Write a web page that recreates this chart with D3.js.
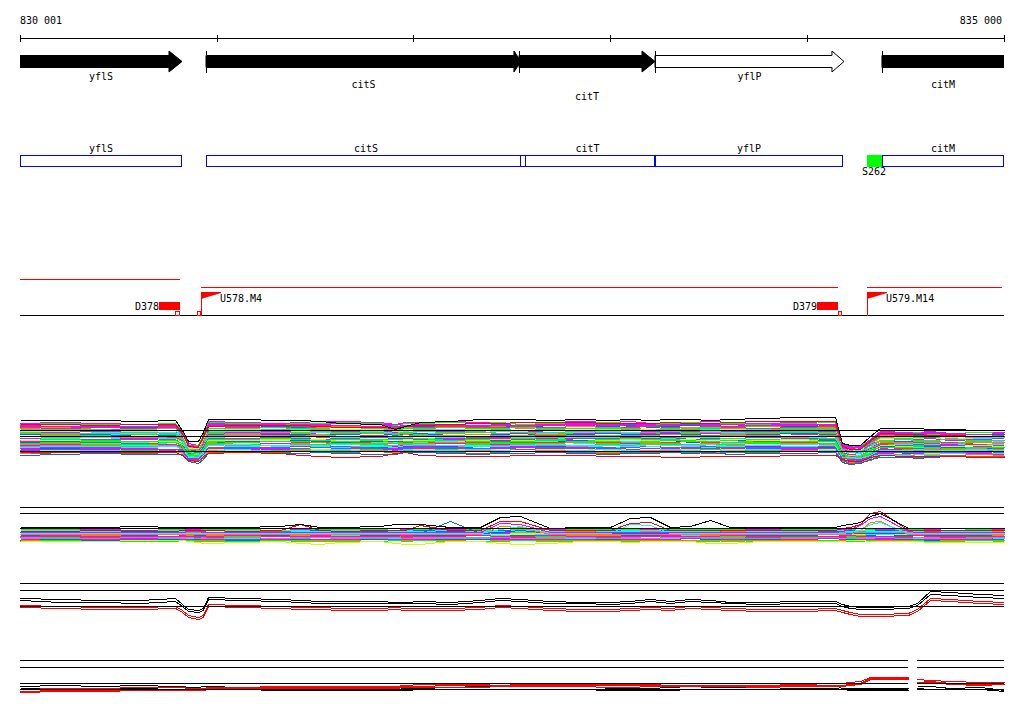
<!DOCTYPE html>
<html><head><meta charset="utf-8">
<script src="https://cdn.jsdelivr.net/npm/d3@7"></script>
<style>
body{margin:0;background:#fff;}
svg{display:block;}
text{font-family:"DejaVu Sans Mono",monospace;font-size:10px;fill:#000;}
</style>
</head><body>
<svg id="c" width="1024" height="714"></svg>
<script>
// ---------------- DATA ----------------
const regionStart = 830001, regionEnd = 835000;
const axisTicks = [830001, 831000, 832000, 833000, 834000, 835000];
const axisLabels = [830001, 835000];

// genes (arrows)
const geneNames  = ['yflS','citS','citT','yflP','citM'];
const geneStarts = [829950, 830946, 832536, 833227, 834380];
const geneEnds   = [830824, 832546, 833227, 834187, 835150];
const geneFilled = [true, true, true, false, true];

// annotated boxes
const boxNames  = ['yflS','citS','citT','yflP','citM'];
const boxStarts = [830001, 830946, 832541, 833227, 834380];
const boxEnds   = [830824, 832571, 833227, 834184, 835000];
const siteNames = ['S262'];
const siteStarts = [834306];
const siteEnds   = [834380];

// transcription units
const tuStarts = [830001, 830920, 834304];
const tuEnds   = [830814, 834157, 834990];
const tuRow    = [0, 1, 1];
const termNames = ['D378','D379'];
const termStarts = [830707, 834050];
const termEnds   = [830814, 834157];
const promNames = ['U578.M4','U579.M14'];
const promPos   = [830920, 834304];
const markStarts = [830789, 830900, 834157];
const markEnds   = [830814, 830920, 834177];

// probe grid (bp)
const grid = [830001,830204,830407,830611,830789,830824,830855,830905,830931,830956,
  831119,831322,831424,831525,831627,831830,831906,831957,832034,832186,
  832338,832440,832542,832694,832847,832999,833101,833202,833304,833406,
  833507,833609,833761,833964,834142,834177,834218,834269,834320,834371,
  834513,834559,834625,834727,834879,835000];

// Track A (many conditions)
const refA = [40, 34, 19];
const topBlackA = [50,50,50,49,50,40,29,29,38,51,51,50,50,49,47,46,41,44,48,49,51,51,51,50,51,50,51,50,51,51,50,51,52,53,53,27,25,25,34,42,42,42,41,41,40,40];
const redTopA = [46,46,45,46,46,37,24,23,34,44,45,45,45,44,43,43,42,44,45,46,47,47,48,48,48,47,47,47,48,47,47,48,49,49,49,24,21,21,30,37,36,36,35,35,34,34];
const redBotA = [18,18,18,18,18,15,10,9,14,17,18,17,15,14,13,14,17,18,15,14,14,14,15,15,15,14,14,14,13,13,14,14,14,15,15,11,9,9,13,15,14,14,14,14,13,13];
const centerA = [32,32,32,32,32,28,18,17,24,33,33,33,33,33,33,33,32,33,33,33,33,33,33,33,33,33,33,33,33,33,33,33,33,33,33,18,16,16,21,26,26,26,26,26,26,26];
const spreadA = [1,1,1,1,1,0.8,0.55,0.55,0.8,1,1,1,1,1,1,1,1,1,1,1,1,1,1,1,1,1,1,1,1,1,1,1,1,1,1,0.6,0.55,0.55,0.7,0.8,0.8,0.8,0.8,0.8,0.8,0.8];
const offsetsA = [15,14,13.5,12,11,10.5,10,9,8,7.5,7,6,5,4.5,4,3,2,1.5,1,0,-1,-1.5,-2,-3,-4,-4.5,-5,-6,-6.5,-7,-8,-9,-9.5,-10,-11,-12,-12.5,-13,-14,-15,-16,12.5,5.5,-3.5,-7.5,-10.5];
const colorsA = "mgpmbonygclpcmgbonycpmglbcnomgycbpmlgconbmygcpmlo";

// Track B
const refB = [43, 37, 22];
const centerB = [16,16,16,16,16,16,16,16,16,16,16,16,16,16,16,16,16,16,16,16,16,16,16,16,16,16,16,16,16,16,16,16,16,16,16,16,16,16,16,16,16,16,16,16,16,16];
const offsetsB = [5,4.5,4,3.5,3,2.5,2,1.5,1,0.5,0,-0.5,-1,-1.5,-2,-2.5,-3,-3.5,-4,-4.5,-5,-5.5,-6,-6.5,3.2,0.8,-1.8,-3.8];
const colorsB = "gmcbonympglcbomgyncpmbogclmy";
const blackB = [23,23,23,24,23,23,23,23,23,23,23,24,26,23,23,24,26,26,26,23,23,33,34,22,23,23,32,33,23,24,30,23,23,23,23,25,26,28,34,37,22,22,22,22,22,22];
const redB = [19,19,20,19,19,20,20,20,20,20,19,20,26,20,19,20,20,20,25,20,20,29,29,20,20,20,27,28,20,20,20,20,20,20,20,22,23,26,37,39,20,20,20,20,20,20];
const magentaB = [18,18,18,18,18,18,19,19,19,18,18,18,18,18,18,18,18,18,18,18,18,27,26,18,18,18,18,18,18,18,18,18,18,18,18,19,21,25,32,34,19,18,18,18,18,18];
const cyanB = [17,17,17,17,17,17,17,17,17,17,17,17,17,17,17,17,17,17,17,17,17,21,24,17,17,17,26,25,17,17,17,17,17,17,17,17,18,20,26,28,17,17,17,17,17,17];
const blueB = [17,17,17,17,17,17,17,17,17,17,17,17,17,17,17,17,17,17,17,29,17,18,20,17,17,17,17,17,17,17,17,17,17,17,17,17,17,17,17,17,17,17,17,17,17,17];
const orangeB = [16,16,16,16,16,16,16,16,16,16,16,16,16,16,16,16,16,16,16,16,16,24,23,16,16,16,16,16,16,16,16,16,16,16,16,16,16,20,28,29,16,16,16,16,16,16];
const limeB = [9,9,9,10,10,10,9,8,7,7,8,9,7,6,8,9,7,6,6,9,9,7,6,7,9,9,8,9,9,9,7,7,9,9,9,9,10,10,9,9,9,9,8,8,8,8];

// Track C
const refC = [37, 30, 14];
const black1C = [22,21,20,20,22,16,11,10,12,23,22,21,20,19,19,19,18,18,19,18,20,22,21,19,18,18,19,21,19,21,20,18,18,19,19,16,14,13,13,13,14,17,29,28,26,25];
const black2C = [20,18,18,17,19,14,9,8,10,21,20,19,18,17,17,17,17,17,17,16,18,20,19,17,17,16,17,19,17,19,18,17,16,17,17,14,12,11,11,11,12,15,26,25,23,22];
const red1C = [15,14,13,13,14,10,5,3,5,16,15,14,13,13,12,12,13,12,12,12,13,15,14,12,11,11,12,13,12,14,13,12,11,11,12,10,8,6,6,6,7,11,22,21,19,18];
const red2C = [13,12,11,11,12,8,3,1,3,14,13,12,11,11,10,10,11,10,10,10,11,13,12,10,9,9,10,11,10,12,11,10,9,9,10,8,6,4,4,4,5,9,20,19,17,16];

// Track D (gap between 834513 and 834559)
const refD = [40, 33, 17, 11];
const gapD = [834513, 834559];
const black1D = [14,15,14,15,14,14,13,13,14,14,13,13,14,12,12,12,13,12,12,13,14,14,14,14,15,12,12,12,13,14,13,13,13,15,15,12,12,12,12,12,12,14,14,12,13,10];
const black2D = [12,12,11,12,11,11,10,10,11,11,11,10,10,10,10,10,10,10,11,11,11,11,11,11,11,10,10,10,10,11,11,11,11,12,12,11,10,10,10,10,10,12,11,11,11,9];
const red1D = [11,12,12,13,13,13,12,12,12,13,13,14,14,14,14,14,14,15,16,16,16,17,16,16,16,16,16,16,15,15,15,15,15,16,17,17,18,19,23,23,23,21,20,19,18,18];
const red2D = [8,9,9,10,10,10,10,10,10,11,11,12,12,12,12,12,12,13,13,13,13,14,14,14,14,13,13,14,14,14,14,14,13,14,14,14,15,16,21,21,21,17,18,16,15,16];
const red3D = [9,10,10,11,11,11,11,11,11,12,12,13,13,13,13,13,13,14,14,15,15,15,15,15,15,15,15,15,15,15,15,15,14,15,15,15,16,17,22,22,22,18,19,17,16,16];

// small texture pattern for the many-condition tracks
const wobble = [0,1,0,-1,0,0,1,0,0,1,0,-1,0,1,1,0,-1,0,0,1,0,-1,0,0,1,0,1,-1,0,0,1,0,-1,0,1,0,0,-1,0,1,0,0,1,-1,0,0,1,-1,0,1,0];

// ---------------- DRAW ----------------
const pal = {m:'#ff00ff',g:'#00ff00',c:'#00ffff',b:'#0066ff',o:'#ff8000',y:'#999999',
  p:'#9933ff',l:'#ccff00',n:'#996633',r:'#ff0000',k:'#000000'};
const fmt = n => String(n).replace(/\B(?=(\d{3})+(?!\d))/g, ' ');

const svg = d3.select('#c');
const x = d3.scaleLinear().domain([regionStart, regionEnd]).range([20, 1004]);

svg.append('defs').append('clipPath').attr('id','clip')
  .append('rect').attr('x',20).attr('y',0).attr('width',984).attr('height',714);

// Axis
svg.append('line').attr('x1',x(regionStart)).attr('x2',x(regionEnd)).attr('y1',38.5).attr('y2',38.5)
  .attr('stroke','#000').attr('shape-rendering','crispEdges');
svg.selectAll('.tk').data(axisTicks).enter().append('line')
  .attr('x1',d=>Math.round(x(d))+0.5).attr('x2',d=>Math.round(x(d))+0.5).attr('y1',35).attr('y2',42)
  .attr('stroke','#000').attr('shape-rendering','crispEdges');
svg.selectAll('.al').data(axisLabels).enter().append('text')
  .attr('x',(d,i)=> i===0 ? x(d) : x(d)-2).attr('y',24)
  .attr('text-anchor',(d,i)=> i===0 ? 'start' : 'end').text(fmt);

// Genes
const geneHead = [13, 7, 13, 12, 13];
const geneLabelY = [80, 88, 100, 80, 88];
const gG = svg.append('g').attr('clip-path','url(#clip)');
geneNames.forEach((name,i)=>{
  const x0 = x(geneStarts[i]), x1 = x(geneEnds[i]), xh = x1 - geneHead[i];
  const p = `M${x0},55.5 L${xh},55.5 L${xh},51 L${x1},61.5 L${xh},72 L${xh},67.5 L${x0},67.5 Z`;
  gG.append('path').attr('d',p).attr('fill',geneFilled[i]?'#000':'#fff').attr('stroke','#000').attr('stroke-width',1);
  gG.append('line').attr('x1',Math.round(x0)+0.5).attr('x2',Math.round(x0)+0.5).attr('y1',51).attr('y2',73)
    .attr('stroke','#000').attr('shape-rendering','crispEdges');
  const vis0 = Math.max(20, x0), vis1 = Math.min(1004, x1);
  svg.append('text').attr('x',(vis0+vis1)/2).attr('y',geneLabelY[i]).attr('text-anchor','middle').text(name);
});

// Boxes
boxNames.forEach((name,i)=>{
  const x0 = Math.round(x(boxStarts[i])), x1 = Math.round(x(boxEnds[i]));
  svg.append('rect').attr('x',x0+0.5).attr('y',155.5).attr('width',x1-x0-1).attr('height',10.5)
    .attr('fill','none').attr('stroke','#0000ff').attr('shape-rendering','crispEdges');
  svg.append('text').attr('x',(x0+x1)/2).attr('y',152).attr('text-anchor','middle').text(name);
});
siteNames.forEach((name,i)=>{
  const x0 = Math.round(x(siteStarts[i])), x1 = Math.round(x(siteEnds[i]));
  svg.append('rect').attr('x',x0).attr('y',155).attr('width',x1-x0).attr('height',12).attr('fill','#00ff00');
  svg.append('text').attr('x',x0-5).attr('y',175).text(name);
});

// Transcription units
const tuY = [279.5, 287.5];
tuStarts.forEach((s,i)=>{
  svg.append('line').attr('x1',x(s)).attr('x2',x(tuEnds[i])).attr('y1',tuY[tuRow[i]]).attr('y2',tuY[tuRow[i]])
    .attr('stroke','#ff0000').attr('shape-rendering','crispEdges');
});
svg.append('line').attr('x1',20).attr('x2',1004).attr('y1',315.5).attr('y2',315.5)
  .attr('stroke','#000').attr('shape-rendering','crispEdges');
termNames.forEach((name,i)=>{
  const x0 = Math.round(x(termStarts[i])), x1 = Math.round(x(termEnds[i]));
  svg.append('rect').attr('x',x0).attr('y',302).attr('width',x1-x0).attr('height',8).attr('fill','#ff0000');
  svg.append('text').attr('x',x0).attr('y',310).attr('text-anchor','end').text(name);
});
markStarts.forEach((s,i)=>{
  const x0 = Math.round(x(s)), x1 = Math.round(x(markEnds[i]));
  svg.append('rect').attr('x',x0+0.5).attr('y',311.5).attr('width',Math.max(3,x1-x0-1)).attr('height',3.5)
    .attr('fill','#fff').attr('stroke','#ff0000').attr('shape-rendering','crispEdges');
});
promNames.forEach((name,i)=>{
  const px = Math.round(x(promPos[i]));
  svg.append('line').attr('x1',px+0.5).attr('x2',px+0.5).attr('y1',292).attr('y2',316)
    .attr('stroke','#ff0000').attr('shape-rendering','crispEdges');
  svg.append('path').attr('d',`M${px},292 L${px+20},292 L${px+20},293 L${px},299 Z`).attr('fill','#ff0000');
  svg.append('text').attr('x',px+19).attr('y',302).text(name);
});

// Expression tracks
function track(yBottom, yTop, vMax){
  return d3.scaleLinear().domain([0, vMax]).range([yBottom, yTop]);
}
const yA = track(470, 410, 60);
const yB = track(550, 500, 50);
const yC = track(620, 575, 45);
const yD = track(700, 655, 45);

function drawLine(scale, vals, color, idxs){
  const pts = (idxs || grid.map((d,j)=>j)).map(j=>[grid[j], vals[j]]);
  const line = d3.line().x(d=>Math.round(x(d[0]))+0.5).y(d=>Math.round(scale(d[1]))+0.5);
  svg.append('path').attr('d',line(pts)).attr('fill','none').attr('stroke',color)
    .attr('stroke-width',1).attr('shape-rendering','crispEdges');
}
function refLines(scale, vals, segs){
  vals.forEach(v=>{
    (segs || [[regionStart, regionEnd]]).forEach(s=>{
      svg.append('line').attr('x1',x(s[0])).attr('x2',x(s[1]))
        .attr('y1',Math.round(scale(v))+0.5).attr('y2',Math.round(scale(v))+0.5)
        .attr('stroke','#000').attr('shape-rendering','crispEdges');
    });
  });
}

// Track A
offsetsA.forEach((o,i)=>{
  const vals = grid.map((d,j)=> centerA[j] + o*spreadA[j] + wobble[(j + 5*i) % wobble.length]);
  drawLine(yA, vals, pal[colorsA[i % colorsA.length]]);
});
drawLine(yA, redTopA, '#ff0000');
drawLine(yA, redBotA, '#ff0000');
drawLine(yA, topBlackA, '#000');
refLines(yA, refA);

// Track B
offsetsB.forEach((o,i)=>{
  const vals = grid.map((d,j)=> centerB[j] + o + 0.5*wobble[(j + 7*i) % wobble.length]);
  drawLine(yB, vals, pal[colorsB[i % colorsB.length]]);
});
drawLine(yB, limeB, '#ccff00');
drawLine(yB, blueB, '#0066ff');
drawLine(yB, orangeB, '#ff8000');
drawLine(yB, cyanB, '#00ffff');
drawLine(yB, magentaB, '#ff00ff');
drawLine(yB, redB, '#ff0000');
drawLine(yB, blackB, '#000');
refLines(yB, refB);

// Track C
drawLine(yC, red2C, '#ff0000');
drawLine(yC, red1C, '#ff0000');
drawLine(yC, black2C, '#000');
drawLine(yC, black1C, '#000');
refLines(yC, refC);

// Track D
const leftIdx = grid.map((d,j)=>j).filter(j=>grid[j] <= gapD[0]);
const rightIdx = grid.map((d,j)=>j).filter(j=>grid[j] >= gapD[1]);
[[black2D,'#000'],[black1D,'#000'],[red2D,'#ff0000'],[red3D,'#ff0000'],[red1D,'#ff0000']].forEach(([v,c])=>{
  drawLine(yD, v, c, leftIdx);
  drawLine(yD, v, c, rightIdx);
});
refLines(yD, refD, [[regionStart, gapD[0]],[gapD[1], regionEnd]]);
</script>
</body></html>
